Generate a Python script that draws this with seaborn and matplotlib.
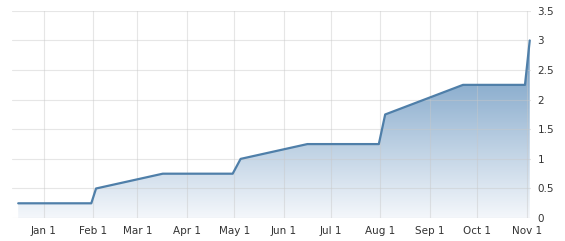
import numpy as np
import pandas as pd
import matplotlib
matplotlib.use("Agg")
import matplotlib.pyplot as plt
import matplotlib.dates as mdates
from matplotlib.colors import LinearSegmentedColormap
import seaborn as sns

dates = ["2021-12-16", "2021-12-31", "2022-01-31", "2022-02-03", "2022-03-17",
         "2022-04-30", "2022-05-05", "2022-06-16", "2022-07-31", "2022-08-04",
         "2022-09-22", "2022-10-31", "2022-11-03"]
rates = [0.25, 0.25, 0.25, 0.5, 0.75, 0.75, 1.0, 1.25, 1.25, 1.75, 2.25, 2.25, 3.0]
tick_dates = ["2022-01-01", "2022-02-01", "2022-03-01", "2022-04-01", "2022-05-01",
              "2022-06-01", "2022-07-01", "2022-08-01", "2022-09-01", "2022-10-01",
              "2022-11-01"]
tick_labels = ["Jan 1", "Feb 1", "Mar 1", "Apr 1", "May 1", "Jun 1", "Jul 1",
               "Aug 1", "Sep 1", "Oct 1", "Nov 1"]
y_ticks = [0, 0.5, 1, 1.5, 2, 2.5, 3, 3.5]
y_labels = ["0", "0.5", "1", "1.5", "2", "2.5", "3", "3.5"]

df = pd.DataFrame({"date": pd.to_datetime(dates), "rate": rates})

sns.set_style("white")
plt.rcParams["font.family"] = ["DejaVu Sans"]

fig = plt.figure(figsize=(5.65, 2.41), dpi=100)
ax = fig.add_axes([0.021, 0.095, 0.918, 0.86])

line_color = "#4f7fa9"
sns.lineplot(data=df, x="date", y="rate", ax=ax, color=line_color, linewidth=1.6, zorder=3)

xnum = mdates.date2num(df["date"])
poly = ax.fill_between(df["date"], 0, df["rate"], facecolor="none", edgecolor="none")
cmap = LinearSegmentedColormap.from_list("g", ["#f4f7fb", "#6b97c0"])
grad = np.linspace(0, 1, 256).reshape(-1, 1)
ymax = max(rates)
img = ax.imshow(grad, cmap=cmap, aspect="auto", origin="lower",
                extent=[xnum.min(), xnum.max(), 0, ymax], zorder=2)
path = poly.get_paths()[0]
img.set_clip_path(path, transform=ax.transData)

xlim_l = mdates.date2num(pd.Timestamp("2021-12-12"))
xlim_r = mdates.date2num(pd.Timestamp("2022-11-03 12:00"))
ax.set_xlim(xlim_l, xlim_r)
ax.set_ylim(0, 3.5)

ax.set_xticks(mdates.date2num(pd.to_datetime(tick_dates)))
ax.set_xticklabels(tick_labels)
ax.set_yticks(y_ticks)
ax.set_yticklabels(y_labels)
ax.yaxis.tick_right()
ax.tick_params(axis="both", length=0, labelsize=7.5, colors="#333333")
ax.tick_params(axis="x", pad=6)
ax.tick_params(axis="y", pad=5)
ax.set_xlabel("")
ax.set_ylabel("")
ax.set_axisbelow(False)
ax.grid(True, color="#c8c8c8", alpha=0.45, linewidth=0.8, zorder=2.5)
for s in ax.spines.values():
    s.set_visible(False)

fig.savefig("out.png", dpi=100)
